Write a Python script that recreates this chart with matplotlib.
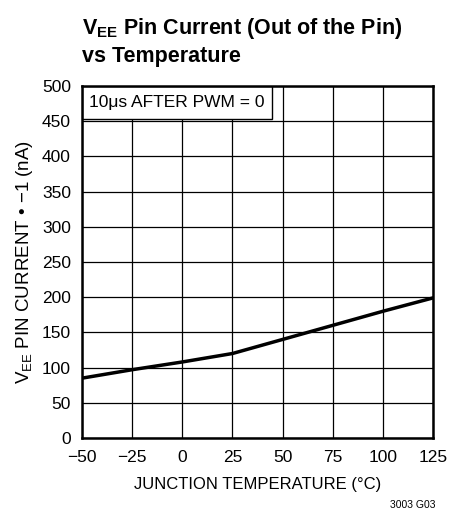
import matplotlib
matplotlib.use("Agg")
import matplotlib.pyplot as plt
from matplotlib.patches import Rectangle

plt.rcParams['font.family'] = ['Liberation Sans Narrow', 'Liberation Sans', 'DejaVu Sans']
plt.rcParams['mathtext.fontset'] = 'custom'
plt.rcParams['mathtext.rm'] = 'Liberation Sans'
plt.rcParams['mathtext.bf'] = 'Liberation Sans:bold'

# data
temperature = [-50, -25, 0, 25, 50, 75, 100, 125]
current = [85, 97, 108, 120, 140, 160, 180, 199]
x_ticks = [-50, -25, 0, 25, 50, 75, 100, 125]
x_tick_labels = ["\u221250", "\u221225", "0", "25", "50", "75", "100", "125"]
y_ticks = [0, 50, 100, 150, 200, 250, 300, 350, 400, 450, 500]

fig = plt.figure(figsize=(4.65, 5.22), dpi=100)
ax = fig.add_axes([82 / 465, 1 - 438 / 522, 351 / 465, 352 / 522])

ax.plot(temperature, current, color='black', linewidth=2.5, zorder=3)

ax.set_xlim(-50, 125)
ax.set_ylim(0, 500)
ax.set_xticks(x_ticks)
ax.set_xticklabels(x_tick_labels)
ax.set_yticks(y_ticks)
ax.grid(True, color='black', linewidth=0.9)
ax.tick_params(length=0, labelsize=12.5)
ax.tick_params(axis='x', pad=9)
ax.tick_params(axis='y', pad=8)
for s in ax.spines.values():
    s.set_linewidth(1.8)
    s.set_zorder(6)

ax.set_xlabel("JUNCTION TEMPERATURE (\u00b0C)", fontsize=12, labelpad=8)
ax.set_ylabel(r"V$_{\mathrm{EE}}$ PIN CURRENT" + " \u2022 \u22121 (nA)", fontsize=13.5, labelpad=5)

# label box anchored to the top-left corner
ax.add_patch(Rectangle((0, 0.906), 0.541, 0.094, transform=ax.transAxes,
                       facecolor='white', edgecolor='black', linewidth=1, zorder=4))
ax.text(0.02, 0.953, "10\u03bcs AFTER PWM = 0", transform=ax.transAxes,
        fontsize=12.5, va='center', ha='left', zorder=5)

fig.text(82 / 465, 1 - 34 / 522, r"V$_{\mathbf{EE}}$ Pin Current (Out of the Pin)",
         fontsize=15.5, fontweight='bold', ha='left', va='baseline')
fig.text(82 / 465, 1 - 62 / 522, "vs Temperature",
         fontsize=15.5, fontweight='bold', ha='left', va='baseline')

fig.text(435 / 465, 1 - 505 / 522, "3003 G03", fontsize=7.5, ha='right', va='center')

fig.savefig("out.png", dpi=100)
